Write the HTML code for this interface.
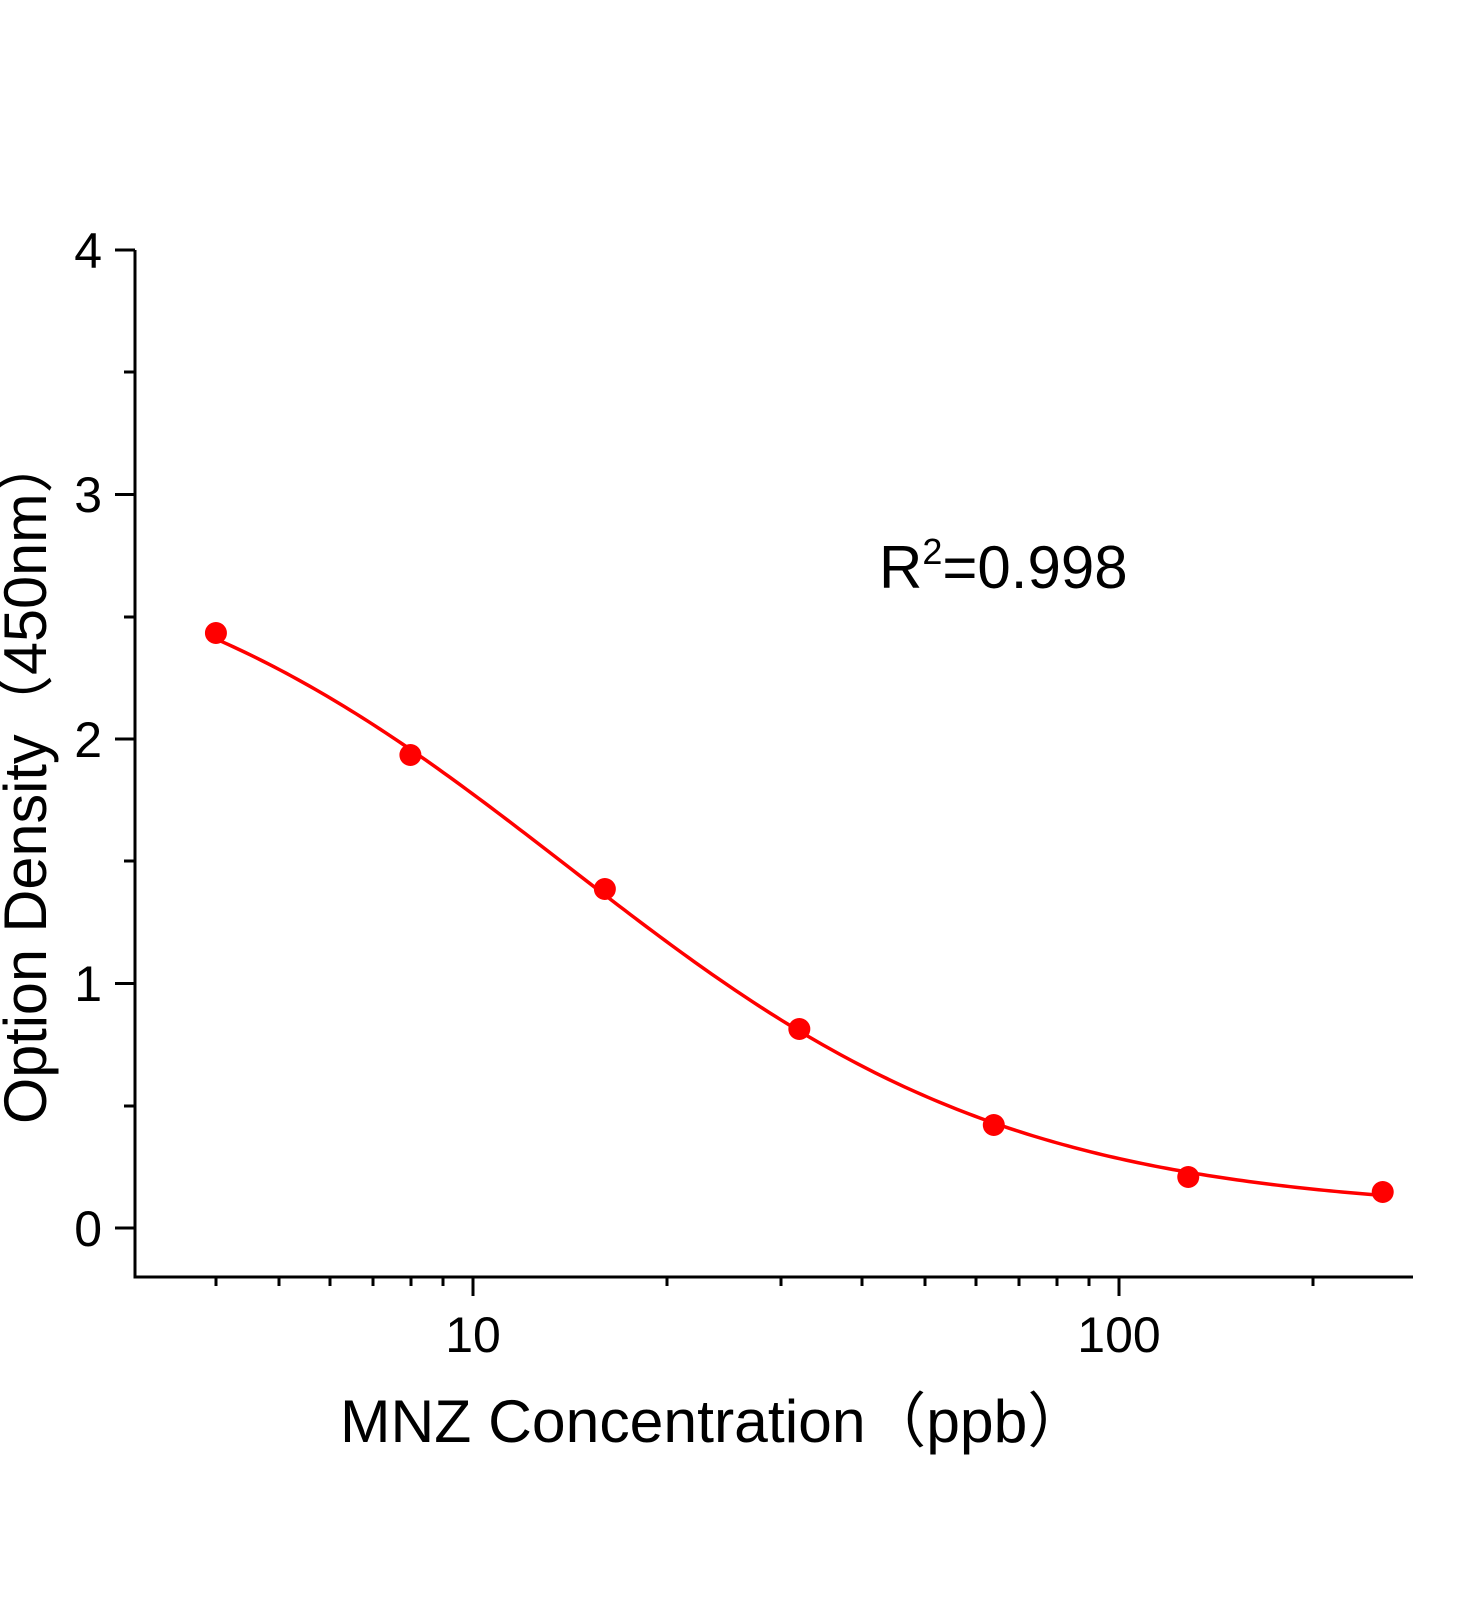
<!DOCTYPE html>
<html><head><meta charset="utf-8"><style>
html,body{margin:0;padding:0;background:#fff;}
svg text{font-family:"Liberation Sans","DejaVu Sans",sans-serif;fill:#000;}
</style></head><body>
<svg id="s" width="1472" height="1600" viewBox="0 0 1472 1600" xmlns="http://www.w3.org/2000/svg">
<g stroke="#000" stroke-width="3" fill="none">
<path d="M135 250 V1277 H1413"/>
<path d="M115 250H135M115 494.5H135M115 739H135M115 983.5H135M115 1228H135"/>
<path d="M124 372H135M124 617H135M124 861H135M124 1106H135"/>
<path d="M473 1277V1296M1119 1277V1296"/>
<path d="M216 1277V1286M279 1277V1286M330 1277V1286M373 1277V1286M411 1277V1286M443 1277V1286M667 1277V1286M781 1277V1286M862 1277V1286M925 1277V1286M976 1277V1286M1019 1277V1286M1057 1277V1286M1089 1277V1286M1313 1277V1286"/>
</g>
<g font-size="50" text-anchor="end">
<text x="102" y="268">4</text>
<text x="102" y="512">3</text>
<text x="102" y="757">2</text>
<text x="102" y="1001">1</text>
<text x="102" y="1246">0</text>
</g>
<g font-size="50" text-anchor="middle">
<text x="473" y="1352">10</text>
<text x="1119" y="1352">100</text>
</g>
<text x="340" y="1442" font-size="60" textLength="748" lengthAdjust="spacingAndGlyphs">MNZ Concentration（ppb）</text>
<text transform="translate(46,779) rotate(-90)" font-size="60" text-anchor="middle" textLength="690" lengthAdjust="spacingAndGlyphs">Option Density（450nm）</text>
<text x="879" y="588" font-size="60">R<tspan font-size="36" dy="-24">2</tspan><tspan dy="24">=0.998</tspan></text>
<path id="c" fill="none" stroke="#f00" stroke-width="3.5"/>
<g id="p" fill="#f00"></g>
</svg>
<script>
var cs=[4,8,16,32,64,128,256],ys=[633,755,889,1029,1125,1177,1192];
function X(c){return 473+646*Math.log10(c/10);}
var od=ys.map(function(y){return (1228-y)/244.5;});
var best=null,be=1e9;
for(var A=2.5;A<=4;A+=0.05)for(var B=0.7;B<=2;B+=0.05)for(var C=6;C<=30;C+=0.5)for(var D=0;D<=0.2;D+=0.02){
 var e=0;for(var i=0;i<7;i++){var f=D+(A-D)/(1+Math.pow(cs[i]/C,B));e+=(f-od[i])*(f-od[i]);}
 if(e<be){be=e;best=[A,B,C,D];}
}
var d="";
for(var k=0;k<=200;k++){
 var lc=Math.log10(4)+(Math.log10(256)-Math.log10(4))*k/200,c=Math.pow(10,lc);
 var f=best[3]+(best[0]-best[3])/(1+Math.pow(c/best[2],best[1]));
 d+=(k?"L":"M")+X(c).toFixed(2)+" "+(1228-244.5*f).toFixed(2);
}
document.getElementById("c").setAttribute("d",d);
var g=document.getElementById("p");
cs.forEach(function(c,i){var e=document.createElementNS("http://www.w3.org/2000/svg","circle");e.setAttribute("cx",X(c));e.setAttribute("cy",ys[i]);e.setAttribute("r",11);g.appendChild(e);});
</script>
</body></html>
